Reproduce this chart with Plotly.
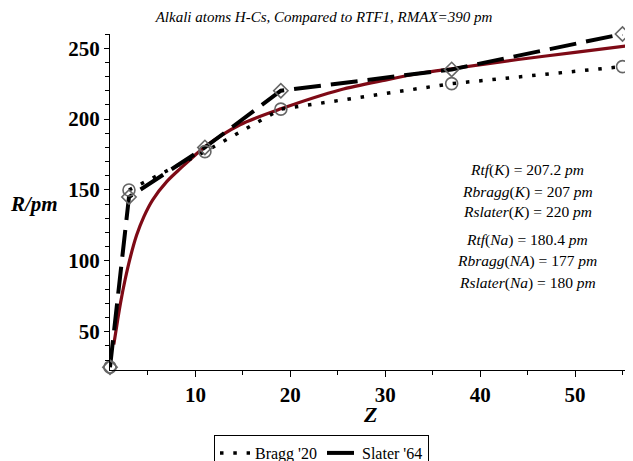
import plotly.graph_objects as go

# Data
Z_points = [1, 3, 11, 19, 37, 55]
bragg_20 = [25, 150, 177, 207, 225, 237]
slater_64 = [25, 145, 180, 220, 235, 260]

# RTF1 curve samples
rtf_z = [1.4, 1.8, 2.1, 2.6, 3.16, 3.8, 4.56, 5.5, 7.0, 8.4, 11, 14.7, 19, 25.3, 30, 33.7, 37, 44, 50, 56]
rtf_r = [41, 58, 70, 87, 103, 118, 131, 143, 156, 165, 180.4, 196, 207.2, 220.7, 227.5, 232.3, 235.5, 242, 247, 252]

annotation_lines = [
    "<i>Rtf</i>(<i>K</i>) = 207.2 <i>pm</i>",
    "<i>Rbragg</i>(<i>K</i>) = 207 <i>pm</i>",
    "<i>Rslater</i>(<i>K</i>) = 220 <i>pm</i>",
    "<i>Rtf</i>(<i>Na</i>) = 180.4 <i>pm</i>",
    "<i>Rbragg</i>(<i>NA</i>) = 177 <i>pm</i>",
    "<i>Rslater</i>(<i>Na</i>) = 180 <i>pm</i>",
]

SERIF = "Liberation Serif, Times New Roman, serif"

# The page body has an 8px default margin; lay out in reference pixels minus that offset.
OFF = 8
W, H = 633 - OFF, 461 - OFF
PL, PR, PT, PB = 109.5 - OFF, 632 - OFF, 34 - OFF, 370 - OFF  # plot area in figure pixels
plot_w = PR - PL
plot_h = PB - PT


def px(xr):
    return (xr - OFF - PL) / plot_w


def py(yr):
    return (PB - (yr - OFF)) / plot_h


annotation_rows = [170, 191.5, 211.5, 240, 261.5, 282.5]  # reference pixel rows

fig = go.Figure()

fig.add_trace(go.Scatter(
    x=rtf_z, y=rtf_r, mode="lines", line=dict(color="#7E0A16", width=3.2, shape="spline", smoothing=0.8),
    showlegend=False, hoverinfo="skip"))

fig.add_trace(go.Scatter(
    x=Z_points[1:], y=bragg_20[1:], mode="lines", name="Bragg '20",
    line=dict(color="black", width=3.5, dash="3.5px,9.8px")))

fig.add_trace(go.Scatter(
    x=Z_points, y=slater_64, mode="lines", name="Slater '64",
    line=dict(color="black", width=4, dash="27px,10px")))

fig.add_trace(go.Scatter(
    x=Z_points, y=bragg_20, mode="markers", showlegend=False, cliponaxis=False,
    marker=dict(symbol="circle-open", size=12, color="#666666", line=dict(width=1.6, color="#666666"))))

fig.add_trace(go.Scatter(
    x=Z_points, y=slater_64, mode="markers", showlegend=False, cliponaxis=False,
    marker=dict(symbol="diamond-open", size=11, color="#666666", line=dict(width=1.6, color="#666666"))))

for txt, row in zip(annotation_lines, annotation_rows):
    fig.add_annotation(
        x=px(527), y=py(row), xref="paper", yref="paper",
        text=txt, showarrow=False, font=dict(family=SERIF, size=15.5, color="black"),
        xanchor="center", yanchor="middle")

fig.add_annotation(x=px(33), y=py(204), xref="paper", yref="paper",
                   text="<b><i>R/pm</i></b>", showarrow=False,
                   font=dict(family=SERIF, size=21, color="black"), xanchor="center", yanchor="middle")
fig.add_annotation(x=px(370), y=py(414), xref="paper", yref="paper",
                   text="<b><i>Z</i></b>", showarrow=False,
                   font=dict(family=SERIF, size=22, color="black"), xanchor="center", yanchor="middle")

fig.update_layout(
    width=W, height=H,
    margin=dict(l=PL, r=W - PR, t=PT, b=H - PB, autoexpand=False),
    paper_bgcolor="white", plot_bgcolor="white",
    title=dict(text="<i>Alkali atoms H-Cs, Compared to RTF1, RMAX=390 pm</i>",
               x=(324 - OFF) / W, xref="container", xanchor="center",
               y=1 - (16.5 - OFF) / H, yref="container", yanchor="middle",
               font=dict(family=SERIF, size=15, color="black")),
    xaxis=dict(range=[1, 56], showgrid=False, zeroline=False, showline=True, linecolor="black", linewidth=1,
               automargin=False,
               ticks="outside", ticklen=6, tickcolor="black", tickwidth=1,
               tickvals=[10, 20, 30, 40, 50], ticktext=["<b>10</b>", "<b>20</b>", "<b>30</b>", "<b>40</b>", "<b>50</b>"],
               minor=dict(tickvals=[5, 15, 25, 35, 45, 55], ticks="outside", ticklen=4, tickcolor="black"),
               tickfont=dict(family=SERIF, size=21, color="black")),
    yaxis=dict(range=[23, 260], showgrid=False, zeroline=False, showline=True, linecolor="black", linewidth=1,
               automargin=False,
               ticks="outside", ticklen=5, tickcolor="black", tickwidth=1,
               tickvals=[50, 100, 150, 200, 250],
               ticktext=["<b>50</b>", "<b>100</b>", "<b>150</b>", "<b>200</b>", "<b>250</b>"],
               minor=dict(tickvals=[30, 40, 60, 70, 80, 90, 110, 120, 130, 140, 160, 170, 180, 190,
                                    210, 220, 230, 240, 260],
                          ticks="outside", ticklen=4, tickcolor="black"),
               tickfont=dict(family=SERIF, size=21, color="black")),
    legend=dict(orientation="h", x=(321.5 - OFF) / W, xanchor="center", xref="container",
                y=1 - (435 - OFF) / H, yanchor="top", yref="container",
                bordercolor="black", borderwidth=1, bgcolor="white",
                font=dict(family=SERIF, size=16, color="black"), itemwidth=30, tracegroupgap=0),
    showlegend=True,
)

fig.write_html("out.html")
